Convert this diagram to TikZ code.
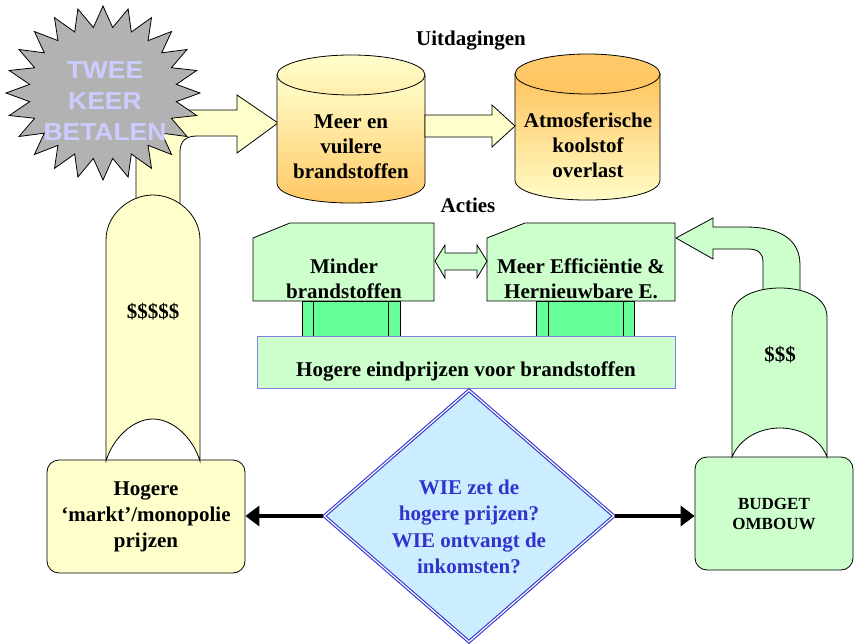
\documentclass[tikz,border=0pt]{standalone}
\usepackage{fontspec}
\setmainfont{Liberation Serif}
\newfontfamily\burstfont{Liberation Sans}
\usetikzlibrary{arrows.meta,shapes.geometric}
\definecolor{lyel}{HTML}{FFFFCC}
\definecolor{oran}{HTML}{FFC45E}
\definecolor{lgreen}{HTML}{CCFFCC}
\definecolor{mgreen}{HTML}{66FF99}
\definecolor{barline}{HTML}{8080E0}
\definecolor{dfill}{HTML}{CCECFF}
\definecolor{dblue}{HTML}{3333CC}
\definecolor{burstgray}{HTML}{B2B2B2}
\definecolor{bursttext}{HTML}{CCCCFF}
\tikzset{
  outl/.style={draw=black, line width=0.8pt},
  txt/.style={font=\fontsize{21}{25}\selectfont\bfseries, align=center, inner sep=0pt},
  smalltxt/.style={font=\fontsize{17}{20}\selectfont\bfseries, align=center, inner sep=0pt},
  bigarrow/.style={line width=4pt, -{Triangle[length=14pt,width=20pt]}},
}
\begin{document}
\begin{tikzpicture}[x=1pt,y=-1pt]
\useasboundingbox (0,0) rectangle (854,644);

% yellow bent arrow
\path[outl, fill=lyel] (136,205) -- (136,152) .. controls (136,126) and (155,110) .. (185,110)
  -- (237,110) -- (237,95) -- (278,123) -- (237,153) -- (237,136) -- (197,136)
  .. controls (186,136) and (180,141) .. (180,152) -- (180,205) -- cycle;

% starburst
\path[outl, fill=burstgray] plot[samples at={0,...,47}, variable=\t]
  ({103+(mod(\t,2)==0 ? 97 : 74)*cos(7.5*\t)},{93+(mod(\t,2)==0 ? 87 : 66)*sin(7.5*\t)}) -- cycle;
\node[font=\burstfont\fontsize{24.5}{31}\selectfont\bfseries, text=bursttext, align=center, inner sep=0pt, xscale=1.08] (burst) at (105,101) {TWEE\\KEER\\BETALEN};

% left box and arch
\node[outl, fill=lyel, rounded corners=12pt, minimum width=198pt, minimum height=113pt, txt, font=\fontsize{21}{26}\selectfont\bfseries] (lbox) at (146,516.5) {Hogere\\‘markt’/monopolie\\prijzen};
\path[outl, fill=lyel] (106,461) -- (106,240) .. controls (106,214) and (130,195) .. (153,195)
  .. controls (176,195) and (200,214) .. (200,240) -- (200,461)
  .. controls (193,438) and (173,419) .. (153,419) .. controls (133,419) and (113,438) .. (106,461) -- cycle;
\node[txt] (money1) at (153,312) {\$\$\$\$\$};

% cylinders
\shade[top color=lyel, bottom color=oran, draw=black, line width=0.8pt]
  (277,75) -- (277,183) .. controls (277,209.7) and (425,209.7) .. (425,183) -- (425,75) -- cycle;
\shade[top color=lyel, bottom color=lyel!70!oran, draw=black, line width=0.8pt] (351,75) ellipse [x radius=74pt, y radius=20pt];
\node[txt] (cyl1) at (351,147) {Meer en\\vuilere\\brandstoffen};

\shade[top color=oran, bottom color=lyel, draw=black, line width=0.8pt]
  (515,74) -- (515,180) .. controls (515,206.7) and (660,206.7) .. (660,180) -- (660,74) -- cycle;
\shade[top color=oran!90!white, bottom color=oran, draw=black, line width=0.8pt] (587.5,74) ellipse [x radius=72.5pt, y radius=20pt];
\node[txt] (cyl2) at (588,145) {Atmosferische\\koolstof\\overlast};

% arrow between cylinders
\path[outl, fill=lyel] (425,115) -- (492,115) -- (492,105) -- (515,126) -- (492,147) -- (492,137) -- (425,137) -- cycle;

\node[txt] (uit) at (471,41) {Uitdagingen};
\node[txt] (act) at (468,205) {Acties};

% green boxes
\path[outl, fill=lgreen] (253,238) -- (290,223) -- (434,223) -- (434,301) -- (253,301) -- cycle;
\node[txt] (minder) at (344,279) {Minder\\brandstoffen};
\path[outl, fill=lgreen] (487,238) -- (525,223) -- (675,223) -- (675,301) -- (487,301) -- cycle;
\node[txt] (meer) at (581,279) {Meer Efficiëntie \&\\Hernieuwbare E.};

% double arrow
\path[outl, fill=lgreen] (435,261) -- (445,245) -- (445,253) -- (477,253) -- (477,245) -- (487,261)
  -- (477,278) -- (477,270) -- (445,270) -- (445,278) -- cycle;

% legs
\path[outl, fill=mgreen] (302,301) rectangle (400,336);
\draw[outl] (313,301) -- (313,336) (388,301) -- (388,336);
\path[outl, fill=mgreen] (536,301) rectangle (634,336);
\draw[outl] (548,301) -- (548,336) (623,301) -- (623,336);

% bar
\node[draw=barline, line width=0.8pt, fill=lgreen, minimum width=418pt, minimum height=52pt, inner sep=0pt] (bar) at (466,362) {};
\node[txt] (bartext) at (466,371) {Hogere eindprijzen voor brandstoffen};

% right green bent arrow
\path[outl, fill=lgreen] (763,295) -- (763,262) .. controls (763,253) and (758,249) .. (748,249)
  -- (713,249) -- (713,259) -- (676,238) -- (713,218) -- (713,227) -- (745,227)
  .. controls (781,227) and (800,240) .. (800,265) -- (800,295) -- cycle;

% right box and arch
\node[outl, fill=lgreen, rounded corners=12pt, minimum width=158pt, minimum height=113pt, smalltxt] (rbox) at (774,513.5) {BUDGET\\OMBOUW};
\path[outl, fill=lgreen] (732,457) -- (732,317) .. controls (732,296) and (758,288) .. (780,288)
  .. controls (802,288) and (827,296) .. (827,317) -- (827,457)
  .. controls (820,438) and (800,428) .. (780,428) .. controls (760,428) and (740,438) .. (732,457) -- cycle;
\node[txt] (money2) at (780,355) {\$\$\$};

% diamond
\node[diamond, draw=dblue, double=white, double distance=1.2pt, line width=1.1pt, fill=dfill,
  minimum width=290pt, minimum height=252pt, inner sep=0pt] (diam) at (469,516) {};
\node[txt, text=dblue, font=\fontsize{21}{26.5}\selectfont\bfseries] (dtext) at (469,527) {WIE zet de\\hogere prijzen?\\WIE ontvangt de\\inkomsten?};

% black arrows
\draw[bigarrow] (diam.west) -- (diam.west -| lbox.east);
\draw[bigarrow] (diam.east) -- (diam.east -| rbox.west);
\end{tikzpicture}
\end{document}
